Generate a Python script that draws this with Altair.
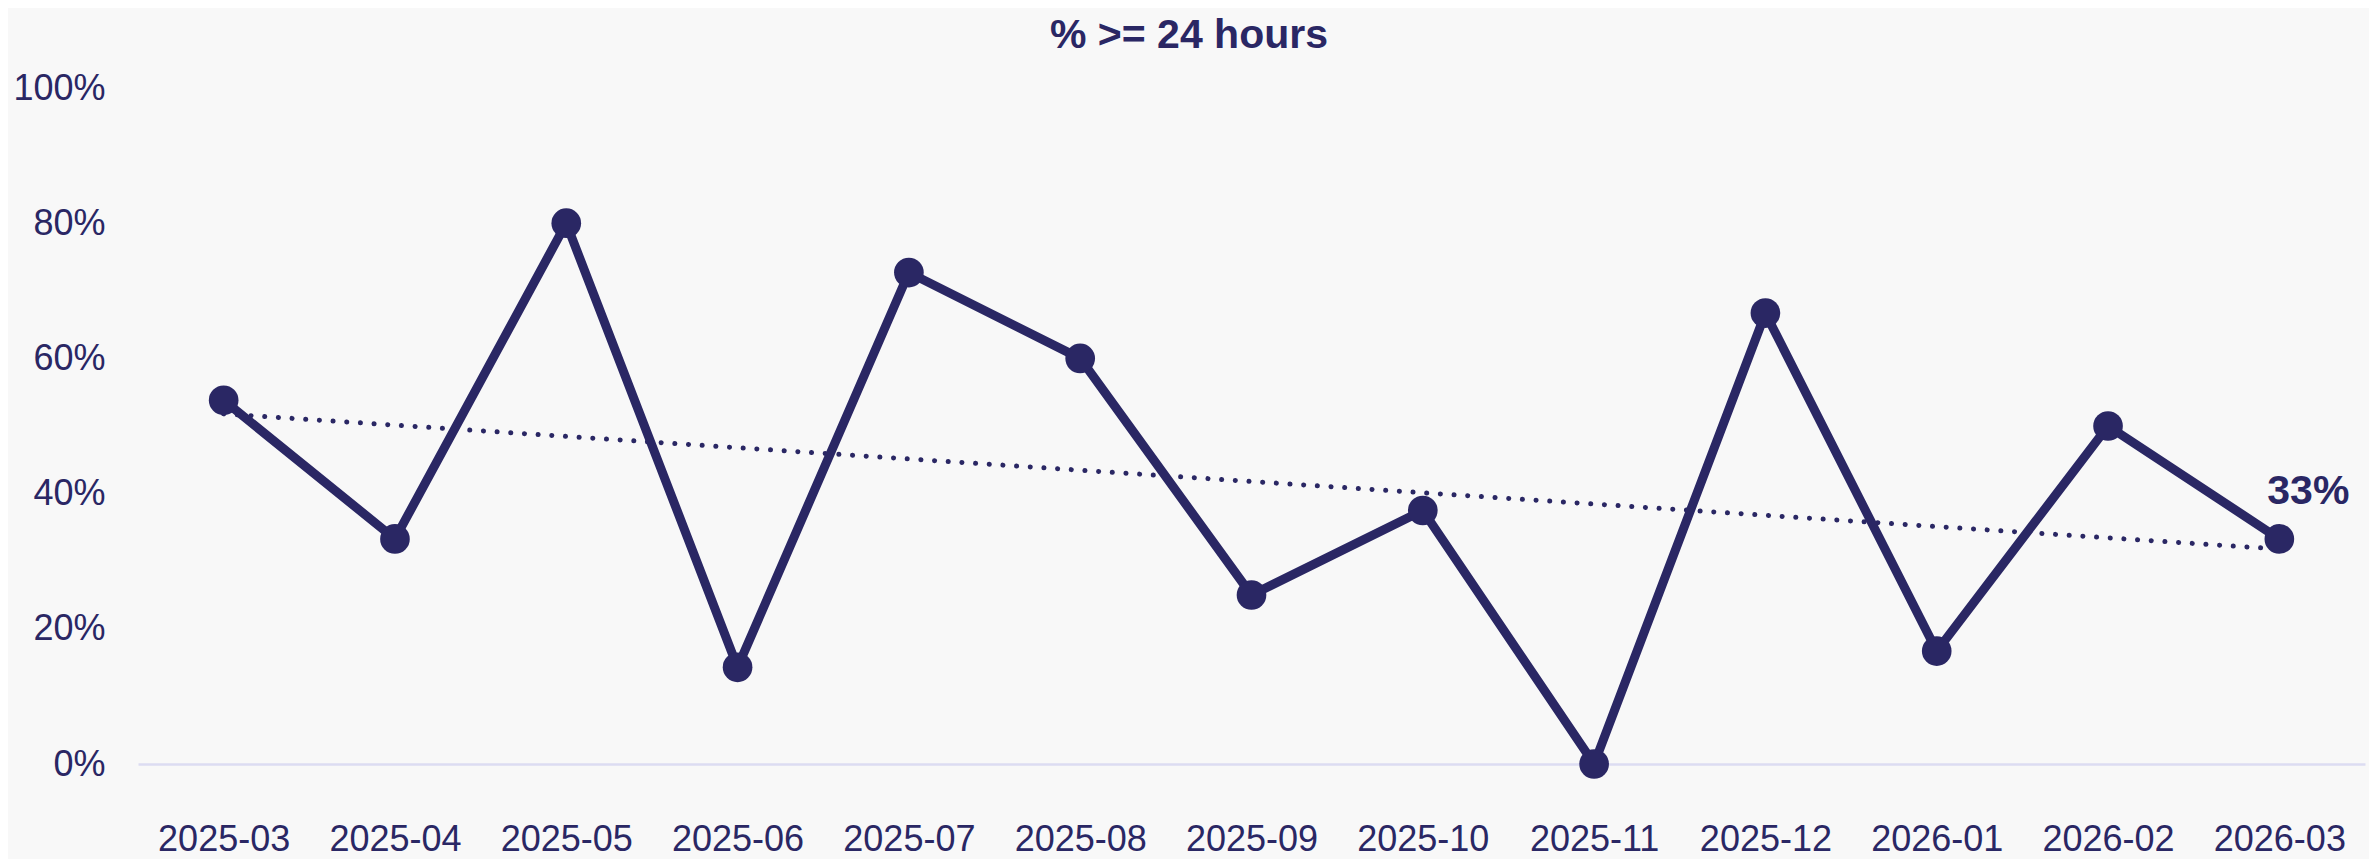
import altair as alt
import numpy as np
import pandas as pd

months = ["2025-03", "2025-04", "2025-05", "2025-06", "2025-07", "2025-08", "2025-09",
          "2025-10", "2025-11", "2025-12", "2026-01", "2026-02", "2026-03"]
pct = [0.538, 0.333, 0.800, 0.143, 0.727, 0.600, 0.250, 0.375, 0.000, 0.667, 0.167, 0.500, 0.333]
y_ticks = [0, 0.2, 0.4, 0.6, 0.8, 1.0]

NAVY = "#2a2764"
BG = "#f8f8f8"
FONT = "Liberation Sans"

idx = np.arange(len(months))
slope, intercept = np.polyfit(idx, pct, 1)
trend = intercept + slope * idx

df = pd.DataFrame({"month": months, "pct": pct, "trend": trend})

x = alt.X("month:O", sort=months,
          scale=alt.Scale(type="point", padding=0.5),
          axis=alt.Axis(title=None, labelAngle=0, ticks=False, domain=True,
                        domainColor="#dcdcf2", domainWidth=2.5,
                        labelFontSize=36, labelColor=NAVY, labelFont=FONT,
                        labelPadding=58, grid=False))

y_scale = alt.Scale(domain=[0, 1], nice=False)
y_axis = alt.Axis(title=None, values=y_ticks, format=".0%", domain=False, ticks=False,
                  grid=False, labelFontSize=36, labelColor=NAVY, labelFont=FONT,
                  labelPadding=33)

base = alt.Chart(df)

trend_line = base.mark_line(color=NAVY, strokeWidth=5, strokeDash=[0.1, 13.6],
                            strokeCap="round").encode(
    x=x, y=alt.Y("trend:Q", scale=y_scale, axis=y_axis))

line = base.mark_line(color=NAVY, strokeWidth=9).encode(
    x=x, y=alt.Y("pct:Q", scale=y_scale, axis=y_axis))

points = base.mark_circle(color=NAVY, size=880, opacity=1).encode(
    x=x, y=alt.Y("pct:Q", scale=y_scale, axis=y_axis))

label = base.transform_filter(alt.datum.month == months[-1]).mark_text(
    color=NAVY, font=FONT, fontSize=41, fontWeight="bold",
    align="center", baseline="middle", dx=29, dy=-47).encode(
    x=x, y=alt.Y("pct:Q", scale=y_scale, axis=y_axis),
    text=alt.Text("pct:Q", format=".0%"))

chart = alt.layer(trend_line, line, points, label).properties(
    width=2227, height=676,
    title=alt.TitleParams("% >= 24 hours", font=FONT, fontSize=41, fontWeight="bold",
                          color=NAVY, anchor="middle", frame="bounds", offset=13),
    autosize=alt.AutoSizeParams(type="none"),
    padding={"left": 130, "top": 80, "right": 4, "bottom": 95},
    background=BG,
).configure_view(stroke=None)

chart.save("out.html", embed_options={"renderer": "svg", "actions": False})
